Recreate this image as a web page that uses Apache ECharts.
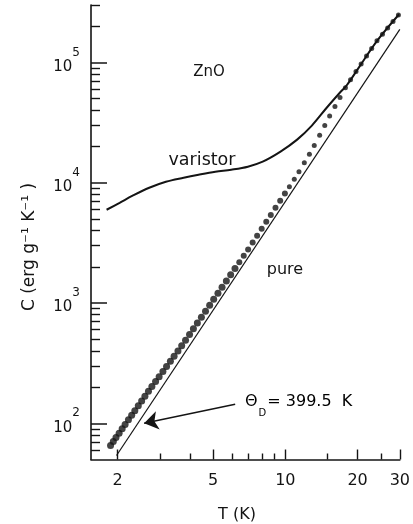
<!DOCTYPE html>
<html>
<head>
<meta charset="utf-8">
<script src="https://cdn.jsdelivr.net/npm/echarts@6/dist/echarts.min.js"></script>
<style>
html,body{margin:0;padding:0;background:#fff;}
#chart{width:413px;height:524px;}
</style>
</head>
<body>
<div id="chart"></div>
<script>
// ---- data (T in K, C in erg g^-1 K^-1) ----
const T_pure = [1.87,1.92,1.97,2.03,2.09,2.15,2.22,2.29,2.36,2.44,2.52,2.60,2.69,2.78,2.88,2.98,3.09,3.20,3.32,3.44,3.57,3.70,3.84,3.99,4.14,4.30,4.47,4.65,4.84,5.03,5.24,5.45,5.68,5.92,6.17,6.43,6.71,7.00,7.31,7.63,7.97,8.33,8.70,9.10,9.52,9.96,10.4,10.9,11.4,12.0,12.6,13.2,13.9,14.6,15.3,16.1,16.9,17.8,18.7,19.7,20.7,21.8,22.9,24.1,25.4,26.7,28.1,29.6];
const C_pure = [65.5,70.7,76.0,82.8,89.9,97.5,106.8,116.6,127.1,139.7,153.1,167.4,184.5,201.8,222.4,244.1,269.5,296.4,327.7,361.3,399.6,440.8,490.6,548.3,610.0,680.8,761.5,854.1,958.3,1072,1206,1351,1522,1716,1935,2180,2466,2788,3180,3622,4136,4726,5392,6180,7087,8132,9267,10690,12310,14640,17260,20370,24810,29950,35790,42970,51130,61520,71760,83820,97000,112800,130200,151100,171700,193500,218700,247700];
const T_varistor = [1.80,2.04,2.31,2.71,3.18,3.77,4.35,5.11,5.95,6.98,8.05,9.55,11.2,12.9,14.9,16.9,18.0,20.4,24.2,29.8];
const C_varistor = [5957,6808,7798,9085,10190,11010,11660,12350,12830,13590,14960,18130,22800,29850,42170,56230,64270,92680,152400,251200];
const T_debye = [1.98, 30];
const C_debye = [54, 188000];
const arrowTail = [6.18, 144];
const arrowHead = [2.58, 100];
const xRange = [1.55, 30];
const yRange = [50, 300000];
const xMajorTicks = [2, 5, 10, 20, 30];
const xMinorTicks = [3, 4, 6, 7, 8, 9, 15, 25];
const yMajorTicks = [100, 1000, 10000, 100000];
const yMinorTicks = [60,70,80,90,200,300,400,500,600,700,800,900,2000,3000,4000,5000,6000,7000,8000,9000,20000,30000,40000,50000,60000,70000,80000,90000,200000,300000];

const L = v => Math.log10(v);
const pairs = (xs, ys) => xs.map((x, i) => [L(x), L(ys[i])]);
const FONT = 'DejaVu Sans';
const INK = '#141414';

const chart = echarts.init(document.getElementById('chart'), null, {renderer: 'canvas'});

const xBase = {type: 'value', gridIndex: 0, min: L(xRange[0]), max: L(xRange[1]), position: 'bottom', splitLine: {show: false}};
const yBase = {type: 'value', gridIndex: 0, min: L(yRange[0]), max: L(yRange[1]), position: 'left', splitLine: {show: false}};

const option = {
  backgroundColor: '#fff',
  animation: false,
  grid: {left: 91, right: 9, top: 5, bottom: 64.5, containLabel: false},
  xAxis: [
    Object.assign({}, xBase, {
      axisLine: {show: true, lineStyle: {color: INK, width: 1.6}},
      axisTick: {show: true, inside: true, length: 10, customValues: xMajorTicks.map(L), lineStyle: {color: INK, width: 1.4}},
      axisLabel: {show: true, customValues: xMajorTicks.map(L), margin: 13, fontSize: 16, fontFamily: FONT, color: INK,
        formatter: v => String(Math.round(Math.pow(10, v)))}
    }),
    Object.assign({}, xBase, {
      axisLine: {show: false},
      axisTick: {show: true, inside: true, length: 6, customValues: xMinorTicks.map(L), lineStyle: {color: INK, width: 1.4}},
      axisLabel: {show: false}
    })
  ],
  yAxis: [
    Object.assign({}, yBase, {
      axisLine: {show: true, lineStyle: {color: INK, width: 1.6}},
      axisTick: {show: true, inside: true, length: 16, customValues: yMajorTicks.map(L), lineStyle: {color: INK, width: 1.5}},
      axisLabel: {show: true, customValues: yMajorTicks.map(L), margin: 11, color: INK, fontFamily: FONT,
        padding: [0, 0, 4, 0],
        formatter: v => '{b|10}{s|' + Math.round(v) + '}',
        rich: {
          b: {fontSize: 15, fontFamily: FONT, color: INK, verticalAlign: 'bottom'},
          s: {fontSize: 12, fontFamily: FONT, color: INK, verticalAlign: 'top', padding: [0, 0, 16, 0]}
        }}
    }),
    Object.assign({}, yBase, {
      axisLine: {show: false},
      axisTick: {show: true, inside: true, length: 9, customValues: yMinorTicks.map(L), lineStyle: {color: INK, width: 1.4}},
      axisLabel: {show: false}
    })
  ],
  series: [
    {
      name: 'pure', type: 'scatter', xAxisIndex: 0, yAxisIndex: 0,
      data: pairs(T_pure, C_pure),
      symbol: 'circle',
      symbolSize: p => (p[0] < 0.8 ? 7 : (p[0] < 1.0 ? 6 : 5)),
      itemStyle: {color: INK},
      silent: true, z: 3
    },
    {
      name: 'varistor', type: 'line', xAxisIndex: 0, yAxisIndex: 0,
      data: pairs(T_varistor, C_varistor),
      smooth: 0.35, showSymbol: false, symbol: 'none',
      lineStyle: {color: INK, width: 2},
      silent: true, z: 2
    },
    {
      name: 'Debye', type: 'line', xAxisIndex: 0, yAxisIndex: 0,
      data: pairs(T_debye, C_debye),
      showSymbol: false, symbol: 'none',
      lineStyle: {color: INK, width: 1.2},
      silent: true, z: 2,
      markLine: {
        silent: true,
        symbol: ['none', 'arrow'],
        symbolSize: 14,
        label: {show: false},
        lineStyle: {color: INK, width: 1.4, type: 'solid'},
        data: [[{coord: [L(arrowTail[0]), L(arrowTail[1])]}, {coord: [L(arrowHead[0]), L(arrowHead[1])]}]]
      }
    }
  ],
  graphic: [
    {type: 'text', x: 30, y: 247, rotation: Math.PI / 2,
      style: {text: 'C (erg g\u207B\u00B9 K\u207B\u00B9 )', font: '17px "DejaVu Sans"', fill: INK, align: 'center', verticalAlign: 'middle'}},
    {type: 'text', x: 237, y: 515,
      style: {text: 'T (K)', font: '16px "DejaVu Sans"', fill: INK, align: 'center', verticalAlign: 'middle'}},
    {type: 'text', x: 209, y: 72,
      style: {text: 'ZnO', font: '15px "DejaVu Sans"', fill: INK, align: 'center', verticalAlign: 'middle'}},
    {type: 'text', x: 202, y: 160,
      style: {text: 'varistor', font: '17.5px "DejaVu Sans"', fill: INK, align: 'center', verticalAlign: 'middle'}},
    {type: 'text', x: 285, y: 270,
      style: {text: 'pure', font: '16px "DejaVu Sans"', fill: INK, align: 'center', verticalAlign: 'middle'}},
    {type: 'text', x: 245, y: 406,
      style: {text: '{a|\u0398}{d|D}{a|= 399.5  K}', align: 'left', verticalAlign: 'middle',
        rich: {
          a: {fontSize: 16, fontFamily: FONT, color: INK, verticalAlign: 'top'},
          d: {fontSize: 10, fontFamily: FONT, color: INK, verticalAlign: 'top', padding: [14, 1, 0, 1]}
        }}}
  ]
};
chart.setOption(option);
</script>
</body>
</html>
